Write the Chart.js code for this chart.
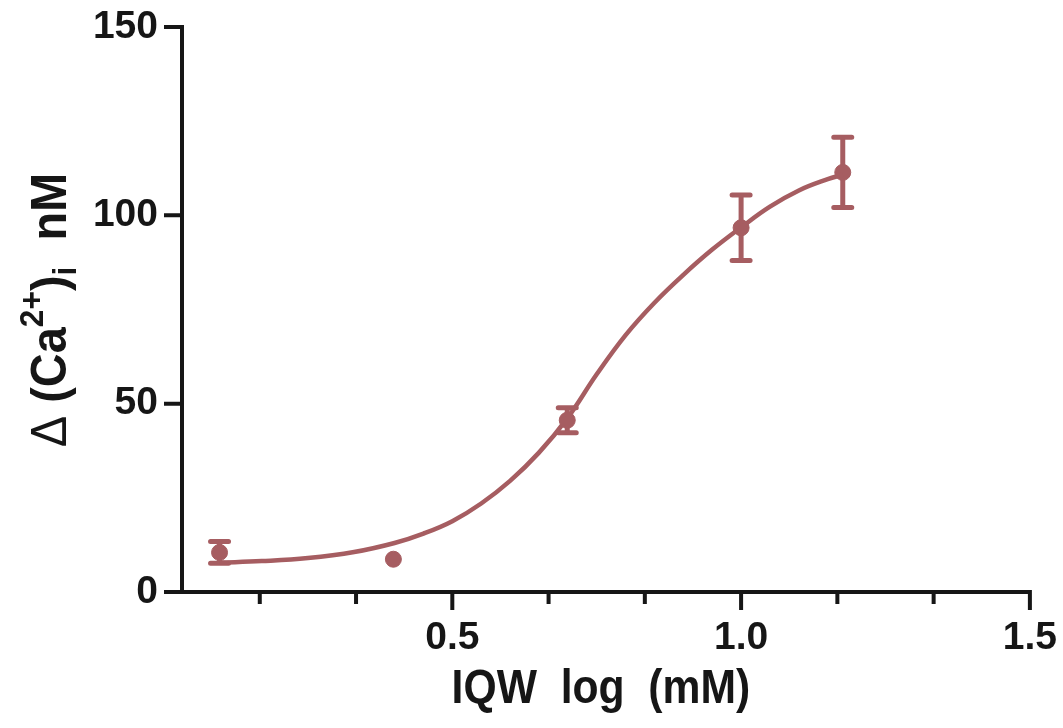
<!DOCTYPE html>
<html>
<head>
<meta charset="utf-8">
<script src="https://cdn.jsdelivr.net/npm/chart.js@4/dist/chart.umd.min.js"></script>
<style>
  html, body { margin: 0; padding: 0; background: #fff; }
  #wrap { width: 1063px; height: 728px; }
</style>
</head>
<body>
<div id="wrap"><canvas id="caChart" width="1063" height="728"></canvas></div>
<script>
// Measured responses: log concentration, mean rise, SEM
const logConc = [0.097, 0.398, 0.699, 1.0, 1.176];
const meanCa = [10.5, 8.7, 45.6, 96.7, 111.4];
const semCa = [2.9, 0, 3.3, 8.7, 9.3];

// Fitted dose-response curve
const fitX = [0.097, 0.17, 0.25, 0.33, 0.40, 0.45, 0.50, 0.55, 0.60, 0.65, 0.70,
              0.75, 0.80, 0.85, 0.90, 0.95, 1.00, 1.05, 1.10, 1.15, 1.176];
const fitY = [7.8, 8.2, 9.0, 10.6, 13.0, 15.5, 18.8, 23.5, 29.5, 37.0, 46.3,
              57.8, 68.2, 76.8, 84.2, 90.9, 96.8, 102.3, 106.6, 109.6, 110.8];

// Axis ticks
const xTickValues = [1/6, 2/6, 0.5, 4/6, 5/6, 1.0, 7/6, 8/6, 1.5];
const xTickLabels = ['0.5', '1.0', '1.5'];
const yTickValues = [0, 50, 100, 150];

const RED = '#a65d61';
const INK = '#161616';
const FONT = '"Liberation Sans", Arial, sans-serif';

const isLabelled = v => xTickLabels.some(s => Math.abs(parseFloat(s) - v) < 1e-6);

// error bars, axes, tick marks and axis titles
const decorPlugin = {
  id: 'decor',
  beforeDatasetsDraw(chart) {
    const ctx = chart.ctx;
    const xs = chart.scales.x, ys = chart.scales.y;
    ctx.save();
    ctx.strokeStyle = RED;
    ctx.lineWidth = 5;
    ctx.lineCap = 'round';
    logConc.forEach((lx, i) => {
      if (!semCa[i]) return;
      const px = xs.getPixelForValue(lx);
      const top = ys.getPixelForValue(meanCa[i] + semCa[i]);
      const bot = ys.getPixelForValue(meanCa[i] - semCa[i]);
      ctx.beginPath();
      ctx.moveTo(px, top); ctx.lineTo(px, bot);
      ctx.moveTo(px - 9, top); ctx.lineTo(px + 9, top);
      ctx.moveTo(px - 9, bot); ctx.lineTo(px + 9, bot);
      ctx.stroke();
    });
    ctx.restore();
  },
  afterDraw(chart) {
    const ctx = chart.ctx;
    const xs = chart.scales.x, ys = chart.scales.y;
    const { left, right, top, bottom } = chart.chartArea;
    ctx.save();
    ctx.strokeStyle = INK;
    ctx.lineWidth = 4;
    ctx.lineCap = 'butt';
    ctx.beginPath();
    // axis lines
    ctx.moveTo(left, top - 2); ctx.lineTo(left, bottom + 2);
    ctx.moveTo(left - 18, bottom); ctx.lineTo(right + 2, bottom);
    // y ticks
    yTickValues.forEach(v => {
      const py = ys.getPixelForValue(v);
      ctx.moveTo(left - 18, py); ctx.lineTo(left, py);
    });
    // x ticks, longer where labelled
    xTickValues.forEach(v => {
      const px = xs.getPixelForValue(v);
      ctx.moveTo(px, bottom); ctx.lineTo(px, bottom + (isLabelled(v) ? 18 : 12));
    });
    ctx.stroke();

    // x title, slightly tall lettering
    ctx.fillStyle = INK;
    ctx.textAlign = 'center';
    ctx.textBaseline = 'alphabetic';
    ctx.save();
    ctx.translate((left + right) / 2 - 5, 703);
    ctx.scale(0.97, 1.1);
    ctx.font = 'bold 44px ' + FONT;
    ctx.fillText('IQW  log  (mM)', 0, 0);
    ctx.restore();

    // y title with super/subscripts, rotated
    const parts = [
      { t: '\u0394 ', f: '46px ' + FONT, dy: 0 },
      { t: '(Ca', f: 'bold 46px ' + FONT, dy: 0 },
      { t: '2+', f: 'bold 31px ' + FONT, dy: -21 },
      { t: ')', f: 'bold 46px ' + FONT, dy: 0 },
      { t: 'i', f: 'bold 31px ' + FONT, dy: 9 },
      { t: '  nM', f: 'bold 46px ' + FONT, dy: 0 }
    ];
    let total = 0;
    parts.forEach(p => { ctx.font = p.f; p.w = ctx.measureText(p.t).width; total += p.w; });
    ctx.translate(66, 310);
    ctx.rotate(-Math.PI / 2);
    ctx.scale(1.02, 1.08);
    ctx.textAlign = 'left';
    let cx = -total / 2;
    parts.forEach(p => {
      ctx.font = p.f;
      ctx.fillText(p.t, cx, p.dy);
      cx += p.w;
    });
    ctx.restore();
  }
};

new Chart(document.getElementById('caChart'), {
  type: 'line',
  data: {
    datasets: [
      {
        label: 'fit',
        data: fitX.map((x, i) => ({ x, y: fitY[i] })),
        borderColor: RED,
        borderWidth: 4.5,
        pointRadius: 0,
        tension: 0.4,
        fill: false
      },
      {
        label: 'mean',
        type: 'scatter',
        data: logConc.map((x, i) => ({ x, y: meanCa[i] })),
        backgroundColor: RED,
        borderColor: RED,
        borderWidth: 1,
        pointRadius: 8
      }
    ]
  },
  options: {
    responsive: false,
    animation: false,
    devicePixelRatio: 1,
    layout: { padding: { top: 27, right: 33, left: 0, bottom: 0 } },
    plugins: { legend: { display: false }, tooltip: { enabled: false } },
    scales: {
      x: {
        type: 'linear',
        min: 0.032,
        max: 1.5,
        grid: { display: false, drawTicks: false },
        border: { display: false },
        afterBuildTicks: scale => { scale.ticks = xTickValues.map(v => ({ value: v })); },
        afterFit: scale => { scale.height = 136; },
        ticks: {
          autoSkip: false,
          maxRotation: 0,
          padding: 6,
          color: INK,
          font: { family: FONT, size: 39, weight: 'bold', lineHeight: 2.07 },
          callback: v => {
            const hit = xTickLabels.find(s => Math.abs(parseFloat(s) - v) < 1e-6);
            return hit || '';
          }
        }
      },
      y: {
        min: 0,
        max: 150,
        grid: { display: false, drawTicks: false },
        border: { display: false },
        afterBuildTicks: scale => { scale.ticks = yTickValues.map(v => ({ value: v })); },
        afterFit: scale => { scale.width = 182; },
        ticks: {
          padding: 24,
          color: INK,
          font: { family: FONT, size: 39, weight: 'bold', lineHeight: 0.15 }
        }
      }
    }
  },
  plugins: [decorPlugin]
});
</script>
</body>
</html>
